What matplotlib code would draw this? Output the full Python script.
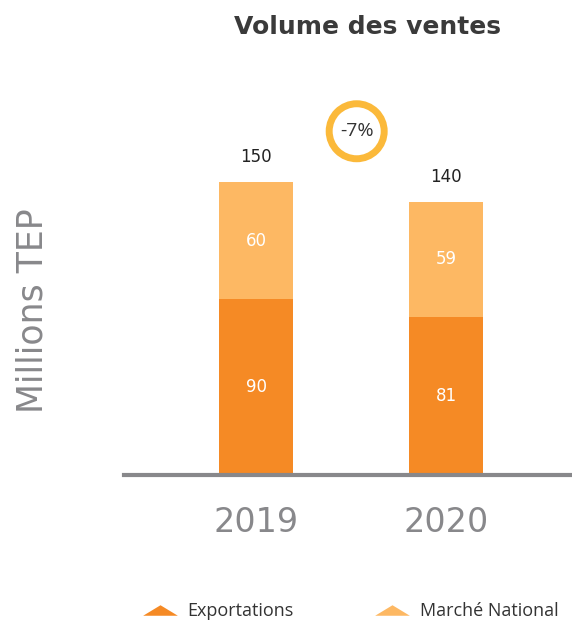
import matplotlib.pyplot as plt
from matplotlib.lines import Line2D
from matplotlib.path import Path

# Data
years = ["2019", "2020"]
exportations = [90, 81]
marche_national = [60, 59]
totals = [150, 140]
variation = "-7%"

# Colours
DARK_ORANGE = "#F58A25"
LIGHT_ORANGE = "#FDB863"
RING = "#FBB93A"
GREY = "#88888B"

plt.rcParams['font.family'] = ['DejaVu Sans']

fig = plt.figure(figsize=(5.72, 6.26), dpi=100)
W, H = 572, 626
# axes: baseline at y=475px, left edge 124px, right 570px, top 100px
ax = fig.add_axes([124 / W, 1 - 475 / H, (570 - 124) / W, (475 - 100) / H])

x = [0, 1]
bar_w = 0.39
ax.bar(x, exportations, width=bar_w, color=DARK_ORANGE, zorder=2)
ax.bar(x, marche_national, width=bar_w, bottom=exportations, color=LIGHT_ORANGE, zorder=2)

ax.set_xlim(-0.695, 1.653)
ax.set_ylim(0, 192)

# values inside the bars
for xi, e, m, t in zip(x, exportations, marche_national, totals):
    ax.text(xi, e / 2, str(e), ha="center", va="center", color="white", fontsize=12)
    ax.text(xi, e + m / 2, str(m), ha="center", va="center", color="white", fontsize=12)
    ax.text(xi, t + 8, str(t), ha="center", va="bottom", color="#222222", fontsize=12)

# variation bubble
ax.text(0.53, 176, variation, ha="center", va="center", fontsize=14, color="#333333",
        family="Open Sans",
        bbox=dict(boxstyle="circle,pad=0.55", fc="white", ec=RING, lw=5))

# axes styling
for s in ["top", "right", "left"]:
    ax.spines[s].set_visible(False)
ax.spines["bottom"].set_color(GREY)
ax.spines["bottom"].set_linewidth(3)
ax.set_yticks([])
ax.set_xticks(x)
ax.set_xticklabels(years, fontsize=24, color=GREY)
ax.tick_params(axis="x", length=0, pad=22)

fig.text(33 / W, 1 - 311 / H, "Millions TEP", rotation=90, ha="center", va="center",
         fontsize=25, color=GREY)
fig.suptitle("Volume des ventes", x=367 / W, y=1 - 27 / H, fontsize=18,
             fontweight="bold", color="#3A3A3A", va="center")

# legend with flat triangles
tri = Path([(-1.65, -0.5), (1.65, -0.5), (0, 0.5), (-1.65, -0.5)],
           [Path.MOVETO, Path.LINETO, Path.LINETO, Path.CLOSEPOLY])
handles = [Line2D([], [], marker=tri, ls="", markersize=25, color=DARK_ORANGE, mec="none"),
           Line2D([], [], marker=tri, ls="", markersize=25, color=LIGHT_ORANGE, mec="none")]
leg = fig.legend(handles, ["Exportations", "Marché National"], loc="center",
                 bbox_to_anchor=(350 / W, 1 - 611 / H), ncol=2, frameon=False,
                 prop={"family": "Open Sans", "size": 13}, labelcolor="#333333",
                 columnspacing=4.5, handletextpad=0.5)

fig.savefig("out.png", dpi=100)
